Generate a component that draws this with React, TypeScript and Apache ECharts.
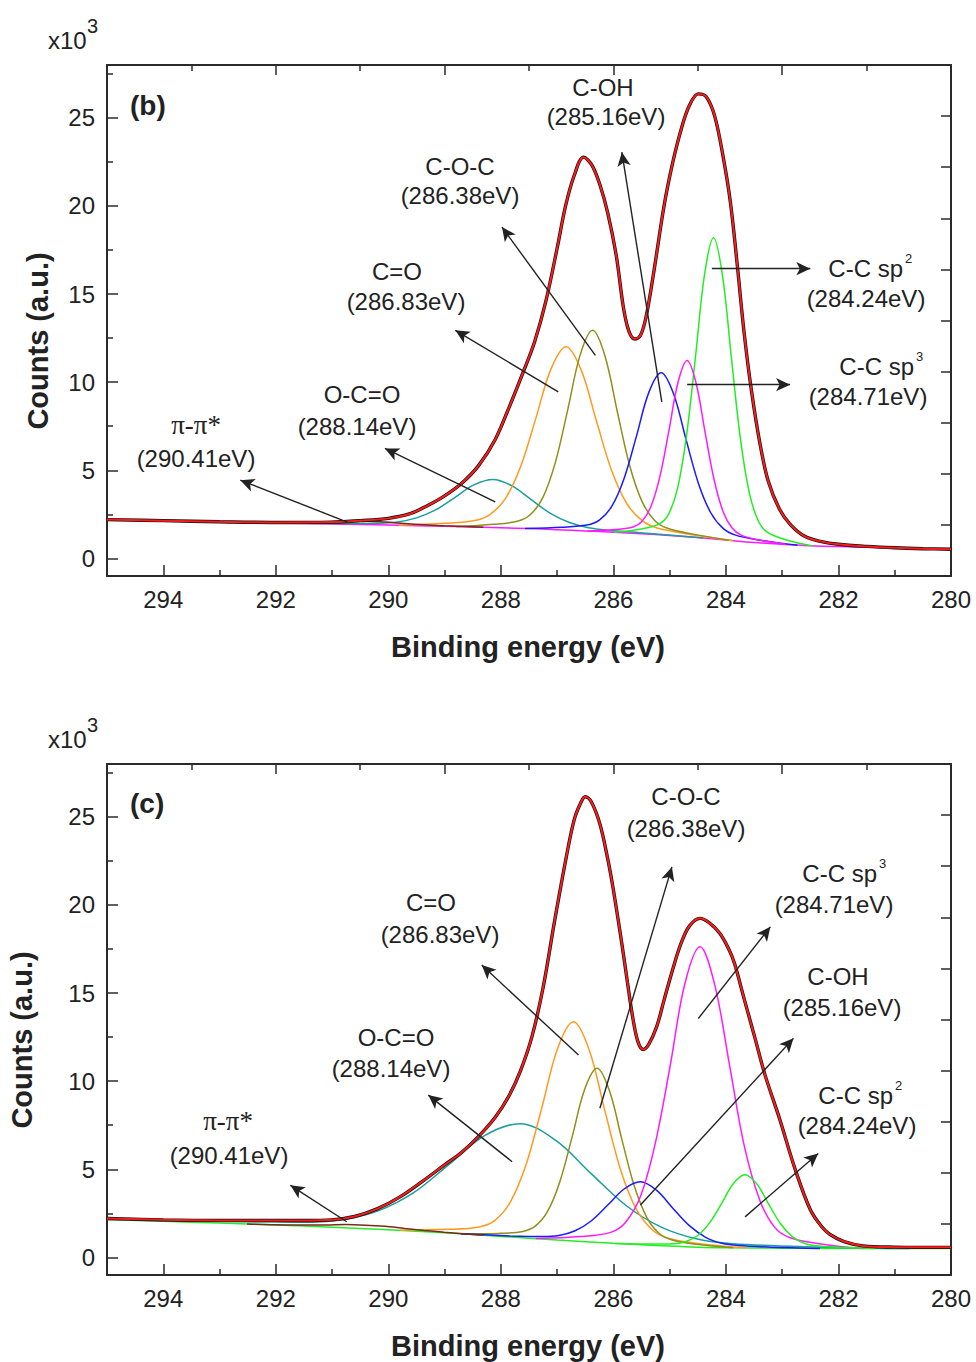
import React, { useEffect, useRef } from "react";
import * as echarts from "echarts";

const FONT = '"Liberation Sans", Arial, Helvetica, sans-serif';
const SERIF = '"Liberation Serif", "Times New Roman", serif';
const AX = "#2a2a2a";
const TXT = "#222222";

// ---- axis ticks ----
const xMajor = [280, 282, 284, 286, 288, 290, 292, 294];
const xMinor = [281, 283, 285, 287, 289, 291, 293];
const xTopMajor = [280, 283, 286, 289, 292];
const xTopMinor = [281.5, 284.5, 287.5, 290.5, 293.5];
const yMajor = [0, 5, 10, 15, 20, 25];
const yMinor = [2.5, 7.5, 12.5, 17.5, 22.5, 27.5];
const yRight = [1.9, 4.8, 7.7, 10.6, 13.5, 16.4, 19.3, 22.2, 25.1];

// ---- panel (b) ----
const bgB = [[295,2.20],[294,2.13],[293,2.06],[292,2.00],[291,1.95],[290,1.89],[289,1.82],[288,1.74],[287.5,1.69],[287,1.63],[286.5,1.56],[286,1.48],[285.5,1.40],[285,1.30],[284.5,1.18],[284,1.04],[283.5,0.90],[283,0.80],[282.5,0.72],[282,0.67],[281,0.59],[280,0.52]];
const tealB = [[284.40,1.16],[285.42,1.43],[286.10,1.60],[286.44,1.74],[286.78,2.04],[287.12,2.56],[287.46,3.33],[287.80,4.11],[288.14,4.48],[288.48,4.17],[288.82,3.45],[289.16,2.75],[289.50,2.30],[289.84,2.07],[290.18,2.00],[290.86,1.98],[291.88,1.99]];
const orangeB = [[283.87,1.00],[284.68,1.39],[285.22,1.72],[285.49,2.14],[285.76,3.10],[286.03,4.97],[286.30,7.78],[286.57,10.67],[286.84,12.01],[287.11,10.74],[287.38,7.93],[287.65,5.20],[287.92,3.39],[288.19,2.50],[288.46,2.15],[289.00,1.99],[289.81,1.88]];
const oliveB = [[283.95,1.03],[284.61,1.39],[285.05,1.72],[285.27,2.17],[285.49,3.22],[285.71,5.26],[285.93,8.32],[286.15,11.49],[286.37,12.94],[286.59,11.55],[286.81,8.46],[287.03,5.46],[287.25,3.48],[287.47,2.50],[287.69,2.12],[288.13,1.93],[288.79,1.80]];
const blueB = [[282.73,0.75],[283.39,1.03],[283.83,1.32],[284.05,1.70],[284.27,2.59],[284.49,4.27],[284.71,6.76],[284.93,9.33],[285.15,10.53],[285.37,9.42],[285.59,6.94],[285.81,4.54],[286.03,2.95],[286.25,2.17],[286.47,1.89],[286.91,1.77],[287.57,1.70]];
const greenB = [[282.46,0.71],[282.94,1.06],[283.26,1.47],[283.42,2.09],[283.58,3.66],[283.74,6.72],[283.90,11.29],[284.06,16.02],[284.22,18.20],[284.38,16.11],[284.54,11.47],[284.70,6.98],[284.86,3.97],[285.02,2.51],[285.18,1.96],[285.50,1.67],[285.98,1.48]];
const magentaB = [[282.93,0.79],[283.41,1.04],[283.73,1.32],[283.89,1.72],[284.05,2.65],[284.21,4.46],[284.37,7.15],[284.53,9.94],[284.69,11.23],[284.85,10.01],[285.01,7.31],[285.17,4.70],[285.33,2.97],[285.49,2.11],[285.65,1.78],[285.97,1.64],[286.45,1.55]];
const piB = [[288.31,1.77],[289.01,1.85],[289.36,1.91],[289.71,1.98],[290.06,2.06],[290.41,2.11],[290.76,2.11],[291.11,2.07],[291.46,2.04],[291.81,2.02],[292.51,2.03]];
const fitB = [[295,2.20],[294,2.14],[293,2.08],[292,2.04],[291,2.06],[290.5,2.14],[290,2.27],[289.6,2.55],[289.3,3.00],[289,3.55],[288.7,4.25],[288.4,5.25],[288.1,6.75],[287.85,8.6],[287.6,10.6],[287.4,12.3],[287.2,14.6],[287.0,17.6],[286.85,20.0],[286.7,21.7],[286.53,22.77],[286.38,22.3],[286.24,21.2],[286.1,19.6],[285.95,17.2],[285.82,14.2],[285.72,12.85],[285.62,12.45],[285.52,12.65],[285.42,13.7],[285.28,16.3],[285.1,20.0],[284.95,22.4],[284.8,24.3],[284.65,25.7],[284.49,26.36],[284.35,26.2],[284.2,25.1],[284.05,22.8],[283.92,20.2],[283.8,16.7],[283.68,12.9],[283.55,9.6],[283.4,6.6],[283.25,4.4],[283.05,2.8],[282.85,1.9],[282.6,1.25],[282.3,0.95],[282,0.8],[281.5,0.68],[281,0.6],[280.5,0.55],[280,0.52]];
// arrows: tail E, tail value, head E, head value
const arrowsB = [[290.73,2.06,292.63,4.44],[288.10,3.21,290.06,6.24],[286.98,9.45,288.81,12.94],[286.32,11.52,287.98,18.8],[285.14,8.88,285.85,23.05],[284.25,16.44,282.50,16.44],[284.69,9.86,282.86,9.86]];

// ---- panel (c) ----
const bgC = [[295,2.15],[294,2.05],[293,1.95],[292,1.84],[291,1.71],[290,1.57],[289,1.40],[288,1.19],[287,0.99],[286,0.80],[285.5,0.72],[285,0.64],[284.5,0.58],[284,0.55],[283,0.52],[282,0.51],[281,0.50],[280,0.50]];
const tealC = [[280.73,0.50],[282.62,0.61],[283.88,0.78],[284.51,1.04],[285.14,1.70],[285.77,2.93],[286.40,4.77],[287.03,6.65],[287.66,7.59],[288.29,6.91],[288.92,5.28],[289.55,3.67],[290.18,2.64],[290.81,2.14],[291.44,2.00],[292.70,2.02],[294.59,2.11]];
const orangeC = [[283.63,0.54],[284.47,0.78],[285.03,1.09],[285.31,1.57],[285.59,2.72],[285.87,4.95],[286.15,8.30],[286.43,11.77],[286.71,13.37],[286.99,11.87],[287.27,8.52],[287.55,5.28],[287.83,3.15],[288.11,2.09],[288.39,1.73],[288.95,1.59],[289.79,1.54]];
const oliveC = [[283.87,0.55],[284.53,0.74],[284.97,1.00],[285.19,1.37],[285.41,2.29],[285.63,4.06],[285.85,6.70],[286.07,9.45],[286.29,10.73],[286.51,9.54],[286.73,6.88],[286.95,4.31],[287.17,2.61],[287.39,1.77],[287.61,1.47],[288.05,1.36],[288.71,1.34]];
const blueC = [[282.33,0.51],[283.20,0.58],[283.78,0.67],[284.07,0.80],[284.36,1.14],[284.65,1.80],[284.94,2.78],[285.23,3.80],[285.52,4.29],[285.81,3.88],[286.10,2.97],[286.39,2.08],[286.68,1.51],[286.97,1.24],[287.26,1.18],[287.84,1.22],[288.71,1.34]];
const magentaC = [[281.55,0.50],[282.34,0.78],[282.87,1.13],[283.14,1.73],[283.40,3.26],[283.67,6.27],[283.93,10.80],[284.20,15.48],[284.46,17.63],[284.73,15.53],[284.99,10.89],[285.26,6.41],[285.52,3.45],[285.79,1.97],[286.05,1.42],[286.58,1.18],[287.38,1.07]];
const greenC = [[281.35,0.50],[281.98,0.58],[282.40,0.66],[282.61,0.80],[282.82,1.18],[283.03,1.91],[283.24,3.02],[283.45,4.16],[283.66,4.69],[283.87,4.18],[284.08,3.04],[284.29,1.96],[284.50,1.24],[284.71,0.90],[284.92,0.78],[285.34,0.76],[285.97,0.79]];
const piC = [[288.31,1.26],[289.01,1.43],[289.36,1.53],[289.71,1.64],[290.06,1.76],[290.41,1.83],[290.76,1.86],[291.11,1.84],[291.46,1.84],[291.81,1.84],[292.51,1.89]];
const fitC = [[295,2.21],[294,2.13],[293,2.10],[292,2.10],[291.5,2.09],[291,2.13],[290.6,2.32],[290.2,2.75],[289.8,3.42],[289.4,4.30],[289.0,5.25],[288.7,5.95],[288.4,6.85],[288.1,7.95],[287.85,9.2],[287.65,10.6],[287.45,12.5],[287.25,15.3],[287.05,19.0],[286.85,22.5],[286.7,24.8],[286.58,25.8],[286.5,26.14],[286.4,25.9],[286.24,24.6],[286.1,22.6],[286.0,20.85],[285.85,17.8],[285.75,15.6],[285.65,13.5],[285.56,12.2],[285.47,11.8],[285.37,12.1],[285.23,13.1],[285.1,14.6],[284.95,16.3],[284.8,17.8],[284.65,18.8],[284.46,19.24],[284.3,19.0],[284.11,18.4],[283.95,17.5],[283.85,16.7],[283.67,14.6],[283.48,12.4],[283.31,10.4],[283.04,7.8],[282.77,5.0],[282.5,2.7],[282.3,1.75],[282.15,1.3],[281.9,0.9],[281.56,0.65],[281,0.58],[280.5,0.57],[280,0.57]];
const arrowsC = [[290.74,2.02,291.74,4.09],[287.80,5.43,289.29,9.21],[286.62,11.48,288.34,16.59],[286.24,8.46,284.96,22.16],[284.49,13.56,283.21,18.76],[285.52,2.97,282.80,12.43],[283.66,2.30,282.36,5.90]];

const C = {
  red: "#ff1a1a",
  teal: "#1a9e9e",
  orange: "#ff9a1f",
  olive: "#8f8f1a",
  blue: "#1a1aff",
  magenta: "#ff1aff",
  green: "#22ee22",
  pi: "#7a2a1a",
};

function xAxes(p: number) {
  const base = {
    gridIndex: p,
    type: "value",
    min: 280,
    max: 295,
    inverse: true,
    splitLine: { show: false },
  };
  return [
    {
      ...base,
      position: "bottom",
      axisLine: { show: true, onZero: false, lineStyle: { color: AX, width: 2 } },
      axisTick: { show: true, inside: true, length: 11, customValues: xMajor, lineStyle: { color: AX, width: 1.5 } },
      axisLabel: { show: true, customValues: xMajor, margin: 11, fontSize: 24, color: TXT, fontFamily: FONT },
    },
    {
      ...base,
      position: "bottom",
      axisLine: { show: false, onZero: false },
      axisTick: { show: true, inside: true, length: 6, customValues: xMinor, lineStyle: { color: AX, width: 1.5 } },
      axisLabel: { show: false },
    },
    {
      ...base,
      position: "top",
      axisLine: { show: true, onZero: false, lineStyle: { color: AX, width: 2 } },
      axisTick: { show: true, inside: true, length: 10, customValues: xTopMajor, lineStyle: { color: AX, width: 1.5 } },
      axisLabel: { show: false },
    },
    {
      ...base,
      position: "top",
      axisLine: { show: false, onZero: false },
      axisTick: { show: true, inside: true, length: 6, customValues: xTopMinor, lineStyle: { color: AX, width: 1.5 } },
      axisLabel: { show: false },
    },
  ];
}

function yAxes(p: number) {
  const base = { gridIndex: p, type: "value", min: -1, max: 28, splitLine: { show: false } };
  return [
    {
      ...base,
      position: "left",
      axisLine: { show: true, onZero: false, lineStyle: { color: AX, width: 2 } },
      axisTick: { show: true, inside: true, length: 11, customValues: yMajor, lineStyle: { color: AX, width: 1.5 } },
      axisLabel: { show: true, customValues: yMajor, margin: 12, fontSize: 24, color: TXT, fontFamily: FONT },
    },
    {
      ...base,
      position: "left",
      axisLine: { show: false, onZero: false },
      axisTick: { show: true, inside: true, length: 6, customValues: yMinor, lineStyle: { color: AX, width: 1.5 } },
      axisLabel: { show: false },
    },
    {
      ...base,
      position: "right",
      axisLine: { show: true, onZero: false, lineStyle: { color: AX, width: 2 } },
      axisTick: { show: true, inside: true, length: 10, customValues: yRight, lineStyle: { color: AX, width: 1.5 } },
      axisLabel: { show: false },
    },
  ];
}

function line(name: string, data: number[][], color: string, width: number, p: number, extra: any = {}) {
  return {
    name,
    type: "line",
    xAxisIndex: p * 4,
    yAxisIndex: p * 3,
    data,
    smooth: 0.35,
    symbol: "none",
    showSymbol: false,
    silent: true,
    lineStyle: { color, width },
    ...extra,
  };
}

function arrowMark(arrows: number[][]) {
  return {
    silent: true,
    symbol: ["none", "arrow"],
    symbolSize: [10, 14],
    lineStyle: { color: "#222", width: 1.4, type: "solid" },
    label: { show: false },
    emphasis: { disabled: true },
    data: arrows.map((a) => [{ coord: [a[0], a[1]] }, { coord: [a[2], a[3]] }]),
  };
}

function t(text: string, x: number, y: number, o: any = {}) {
  return {
    type: "text",
    x,
    y,
    silent: true,
    rotation: o.rotation || 0,
    style: {
      text,
      fill: TXT,
      fontSize: o.size || 24,
      fontFamily: o.family || FONT,
      fontWeight: o.weight || "normal",
      align: o.align || "center",
      verticalAlign: "middle",
    },
  };
}

function spLabel(x: number, y: number, sup: string) {
  return [t("C-C sp", x, y, { align: "right" }), t(sup, x + 2, y - 10, { size: 13, align: "left" })];
}

export default function App() {
  const ref = useRef<HTMLDivElement>(null);
  useEffect(() => {
    if (!ref.current) return;
    const chart = echarts.init(ref.current, undefined, { renderer: "svg" });
    const option: any = {
      animation: false,
      backgroundColor: "#ffffff",
      grid: [
        { left: 107, top: 65, width: 844, height: 511 },
        { left: 107, top: 764, width: 844, height: 511 },
      ],
      xAxis: [...xAxes(0), ...xAxes(1)],
      yAxis: [...yAxes(0), ...yAxes(1)],
      series: [
        line("background b", bgB, C.magenta, 1.5, 0, { markLine: arrowMark(arrowsB) }),
        line("O-C=O b", tealB, C.teal, 1.5, 0),
        line("C=O b", orangeB, C.orange, 1.5, 0),
        line("C-O-C b", oliveB, C.olive, 1.5, 0),
        line("C-OH b", blueB, C.blue, 1.5, 0),
        line("C-C sp2 b", greenB, C.green, 1.5, 0),
        line("C-C sp3 b", magentaB, C.magenta, 1.5, 0),
        line("pi b", piB, C.pi, 1.5, 0),
        line("data b", fitB, "#111", 3.4, 0),
        line("fit b", fitB, C.red, 2, 0),

        line("background c", bgC, C.green, 1.5, 1, { markLine: arrowMark(arrowsC) }),
        line("O-C=O c", tealC, C.teal, 1.5, 1),
        line("C=O c", orangeC, C.orange, 1.5, 1),
        line("C-O-C c", oliveC, C.olive, 1.5, 1),
        line("C-OH c", blueC, C.blue, 1.5, 1),
        line("C-C sp3 c", magentaC, C.magenta, 1.5, 1),
        line("C-C sp2 c", greenC, C.green, 1.5, 1),
        line("pi c", piC, C.pi, 1.5, 1),
        line("data c", fitC, "#111", 3.4, 1),
        line("fit c", fitC, C.red, 2, 1),
      ],
      graphic: {
        elements: [
          // panel b
          t("x10", 48, 40, { size: 24, align: "left" }),
          t("3", 87, 26, { size: 20, align: "left" }),
          t("(b)", 130, 105, { size: 28, weight: "bold", align: "left" }),
          t("Counts (a.u.)", 38, 341, { size: 29, weight: "bold", rotation: Math.PI / 2 }),
          t("Binding energy (eV)", 528, 647, { size: 29, weight: "bold" }),
          t("π-π*", 196, 425, { size: 27, family: SERIF }),
          t("(290.41eV)", 196, 458),
          t("O-C=O", 362, 394),
          t("(288.14eV)", 357, 426),
          t("C=O", 397, 271),
          t("(286.83eV)", 406, 301),
          t("C-O-C", 460, 166),
          t("(286.38eV)", 460, 195),
          t("C-OH", 603, 87),
          t("(285.16eV)", 606, 116),
          ...spLabel(903, 268, "2"),
          t("(284.24eV)", 866, 298),
          ...spLabel(914, 366, "3"),
          t("(284.71eV)", 868, 396),
          // panel c
          t("x10", 48, 739, { size: 24, align: "left" }),
          t("3", 87, 725, { size: 20, align: "left" }),
          t("(c)", 130, 803, { size: 28, weight: "bold", align: "left" }),
          t("Counts (a.u.)", 22, 1040, { size: 29, weight: "bold", rotation: Math.PI / 2 }),
          t("Binding energy (eV)", 528, 1346, { size: 29, weight: "bold" }),
          t("π-π*", 228, 1121, { size: 27, family: SERIF }),
          t("(290.41eV)", 229, 1155),
          t("O-C=O", 396, 1037),
          t("(288.14eV)", 391, 1068),
          t("C=O", 431, 902),
          t("(286.83eV)", 440, 934),
          t("C-O-C", 686, 796),
          t("(286.38eV)", 686, 828),
          ...spLabel(877, 873, "3"),
          t("(284.71eV)", 834, 904),
          t("C-OH", 838, 976),
          t("(285.16eV)", 842, 1007),
          ...spLabel(893, 1095, "2"),
          t("(284.24eV)", 857, 1125),
        ],
      },
    };
    chart.setOption(option);
    return () => chart.dispose();
  }, []);
  return (
    <div
      ref={ref}
      style={{ position: "absolute", left: 0, top: 0, width: 976, height: 1362, background: "#fff" }}
    />
  );
}
